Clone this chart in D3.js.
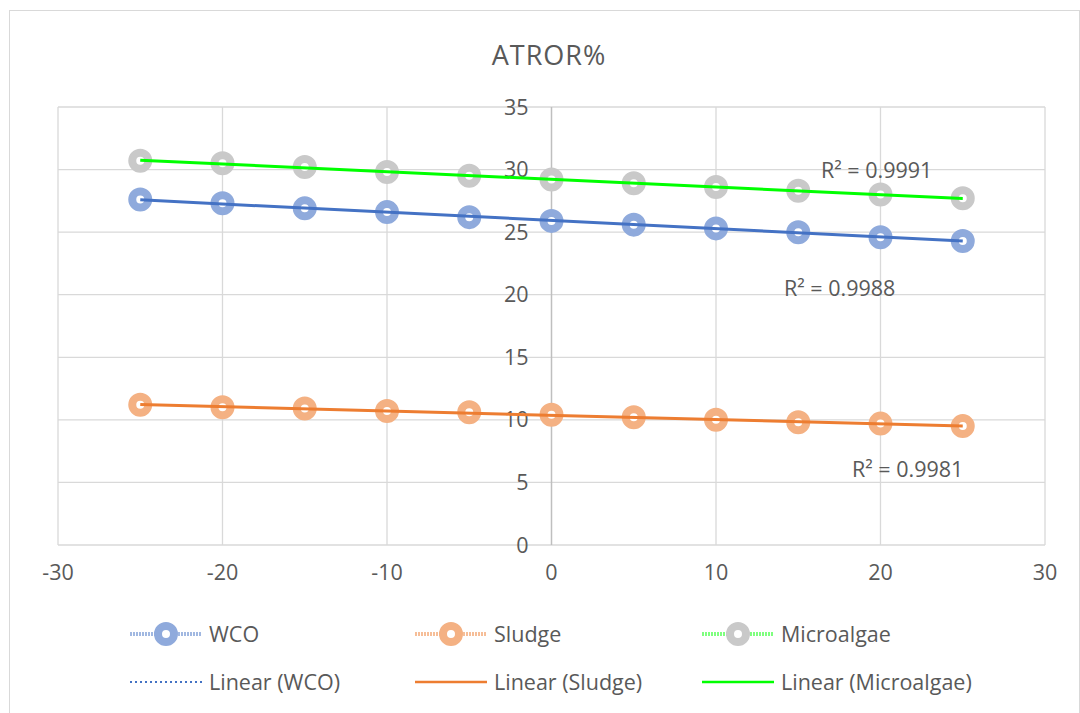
<!DOCTYPE html>
<html>
<head>
<meta charset="utf-8">
<script src="https://cdn.jsdelivr.net/npm/d3@7"></script>
<style>
  body { margin: 0; background: #fff; }
  text { font-family: 'Open Sans', 'Liberation Sans', sans-serif; fill: #595959; }
</style>
</head>
<body>
<div id="chart"></div>
<script>
const temps = [-25, -20, -15, -10, -5, 0, 5, 10, 15, 20, 25]
const wco = [27.6, 27.3, 26.9, 26.6, 26.2, 25.9, 25.6, 25.3, 25.0, 24.6, 24.3]
const sludge = [11.2, 11.0, 10.9, 10.7, 10.6, 10.4, 10.2, 10.0, 9.8, 9.7, 9.5]
const microalgae = [30.7, 30.5, 30.2, 29.8, 29.5, 29.2, 28.9, 28.6, 28.3, 28.0, 27.7]
const r2Labels = ['R² = 0.9988', 'R² = 0.9981', 'R² = 0.9991']
const seriesNames = ['WCO', 'Sludge', 'Microalgae']
const xTicks = [-30, -20, -10, 0, 10, 20, 30]
const yTicks = [0, 5, 10, 15, 20, 25, 30, 35]

const width = 1080, height = 713
const margin = {top: 107, right: 35, bottom: 168, left: 58}
const fs = '21.5px'

const series = [
  {name: seriesNames[0], values: wco, marker: '#8faadc', trend: '#4472c4', r2: r2Labels[0], lx: 784, ly: 296},
  {name: seriesNames[1], values: sludge, marker: '#f4b183', trend: '#ed7d31', r2: r2Labels[1], lx: 852, ly: 477},
  {name: seriesNames[2], values: microalgae, marker: '#c9c9c9', trend: '#00ff00', r2: r2Labels[2], lx: 821, ly: 178}
]

const svg = d3.select('#chart').append('svg')
  .attr('width', width)
  .attr('height', height)

svg.append('rect')
  .attr('x', 9.5).attr('y', 10.5)
  .attr('width', 1070).attr('height', 710)
  .attr('fill', 'none')
  .attr('stroke', '#d9d9d9')

const x = d3.scaleLinear().domain([-30, 30]).range([margin.left, width - margin.right])
const y = d3.scaleLinear().domain([0, 35]).range([height - margin.bottom, margin.top])

// gridlines
svg.append('g')
  .selectAll('line').data(yTicks).enter().append('line')
  .attr('x1', x(-30)).attr('x2', x(30))
  .attr('y1', d => y(d)).attr('y2', d => y(d))
  .attr('stroke', '#d9d9d9').attr('stroke-width', 1.3)
svg.append('g')
  .selectAll('line').data(xTicks.filter(d => d !== 0)).enter().append('line')
  .attr('x1', d => x(d)).attr('x2', d => x(d))
  .attr('y1', y(0)).attr('y2', y(35))
  .attr('stroke', '#d9d9d9').attr('stroke-width', 1.3)

// vertical axis at x = 0
svg.append('line')
  .attr('x1', x(0)).attr('x2', x(0))
  .attr('y1', y(0)).attr('y2', y(35))
  .attr('stroke', '#bfbfbf').attr('stroke-width', 1.5)

// tick labels
svg.append('g')
  .selectAll('text').data(yTicks).enter().append('text')
  .attr('x', x(0) - 23)
  .attr('y', d => y(d))
  .attr('dy', '0.35em')
  .attr('text-anchor', 'end')
  .style('font-size', fs)
  .text(d => d)
svg.append('g')
  .selectAll('text').data(xTicks).enter().append('text')
  .attr('x', d => x(d))
  .attr('y', y(0) + 35)
  .attr('text-anchor', 'middle')
  .style('font-size', fs)
  .text(d => d)

// title
svg.append('text')
  .attr('x', 549).attr('y', 65)
  .attr('text-anchor', 'middle')
  .style('font-size', '27px')
  .style('letter-spacing', '1px')
  .text('ATROR%')

// least squares fit for trendlines
function fit(xs, ys) {
  const mx = d3.mean(xs), my = d3.mean(ys)
  const b = d3.sum(xs, (v, i) => (v - mx) * (ys[i] - my)) / d3.sum(xs, v => (v - mx) ** 2)
  return {a: my - b * mx, b}
}

series.forEach(s => {
  const g = svg.append('g')
  g.selectAll('circle').data(s.values).enter().append('circle')
    .attr('cx', (d, i) => x(temps[i]))
    .attr('cy', d => y(d))
    .attr('r', 8)
    .attr('fill', '#fff')
    .attr('stroke', s.marker)
    .attr('stroke-width', 8)
})

series.forEach(s => {
  const f = fit(temps, s.values)
  const x0 = d3.min(temps), x1 = d3.max(temps)
  svg.append('line')
    .attr('x1', x(x0)).attr('y1', y(f.a + f.b * x0))
    .attr('x2', x(x1)).attr('y2', y(f.a + f.b * x1))
    .attr('stroke', s.trend)
    .attr('stroke-width', 3)
  svg.append('text')
    .attr('x', s.lx).attr('y', s.ly)
    .style('font-size', fs)
    .text(s.r2)
})

// legend
const legendCols = [130, 415, 702]
series.forEach((s, i) => {
  const lx = legendCols[i]
  const g = svg.append('g')
  g.append('line')
    .attr('x1', lx).attr('x2', lx + 72)
    .attr('y1', 634).attr('y2', 634)
    .attr('stroke', s.trend).attr('stroke-opacity', 0.5)
    .attr('stroke-width', 4).attr('stroke-dasharray', '2,1')
  g.append('circle')
    .attr('cx', lx + 36).attr('cy', 634)
    .attr('r', 8).attr('fill', '#fff')
    .attr('stroke', s.marker).attr('stroke-width', 8)
  g.append('text')
    .attr('x', lx + 79).attr('y', 634).attr('dy', '0.35em')
    .style('font-size', fs)
    .text(s.name)
  g.append('line')
    .attr('x1', lx).attr('x2', lx + 72)
    .attr('y1', 682).attr('y2', 682)
    .attr('stroke', s.trend).attr('stroke-width', i === 0 ? 2 : 2.5)
    .attr('stroke-dasharray', i === 0 ? '2,3' : null)
  g.append('text')
    .attr('x', lx + 79).attr('y', 682).attr('dy', '0.35em')
    .style('font-size', fs)
    .text(`Linear (${s.name})`)
})
</script>
</body>
</html>
